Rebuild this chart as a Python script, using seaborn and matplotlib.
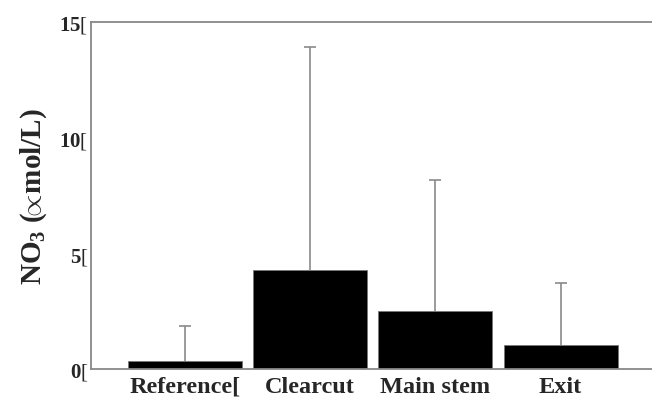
import numpy as np
import pandas as pd
import seaborn as sns
import matplotlib
matplotlib.use('Agg')
import matplotlib.pyplot as plt

# site means and upper error (top of the error bar)
sites = ['Reference[', 'Clearcut', 'Main stem', 'Exit']
no3_mean = [0.36, 4.27, 2.51, 1.05]
no3_top = [1.87, 13.92, 8.19, 3.72]
y_ticks = [0, 5, 10, 15]
y_tick_labels = ['0', '5', '10', '15']

df = pd.DataFrame({'site': sites, 'no3': no3_mean})
upper = np.array(no3_top) - np.array(no3_mean)

sns.set_style('white')
plt.rcParams['font.family'] = ['Liberation Serif', 'DejaVu Serif']
plt.rcParams['mathtext.fontset'] = 'custom'
plt.rcParams['mathtext.rm'] = 'Liberation Serif'
plt.rcParams['mathtext.bf'] = 'Liberation Serif:bold'

fig = plt.figure(figsize=(6.52, 4.02), dpi=100)
ax = fig.add_axes([91 / 652, 32 / 402, 1 - 91 / 652, 347 / 402])

sns.barplot(data=df, x='site', y='no3', color='black', saturation=1,
            width=0.91, errorbar=None, ax=ax, zorder=2)
for p in ax.patches:
    p.set_edgecolor('#777777')
    p.set_linewidth(0.6)

eb = ax.errorbar(np.arange(len(sites)), no3_mean, yerr=[np.zeros(len(sites)), upper],
                 fmt='none', ecolor='#8a8a8a', elinewidth=1.2, capsize=4.3, capthick=1.2,
                 zorder=1)
# keep only the upper caps
eb.lines[1][0].remove()

ax.set_xlim(-0.75, 3.73)
ax.set_ylim(0, 15)
ax.set_yticks(y_ticks)
ax.set_yticklabels([t + r'$\mathrm{[}$' for t in y_tick_labels], fontsize=15, fontweight='bold')
ax.tick_params(axis='y', direction='in', length=6.5, width=1, color='#888888', pad=2)
ax.tick_params(axis='x', length=0, pad=5)
for lab in ax.get_xticklabels():
    lab.set_fontsize(17.5)
    lab.set_fontweight('bold')

ax.set_xlabel('')
ax.set_ylabel(r'NO$_\mathbf{3}$ ($\!\!\propto\!$mol/L)', fontsize=21, fontweight='bold', labelpad=7)

for side in ['left', 'top', 'bottom']:
    ax.spines[side].set_color('#888888')
    ax.spines[side].set_linewidth(1.3)
ax.spines['right'].set_visible(False)

fig.savefig('out.png', dpi=100)
